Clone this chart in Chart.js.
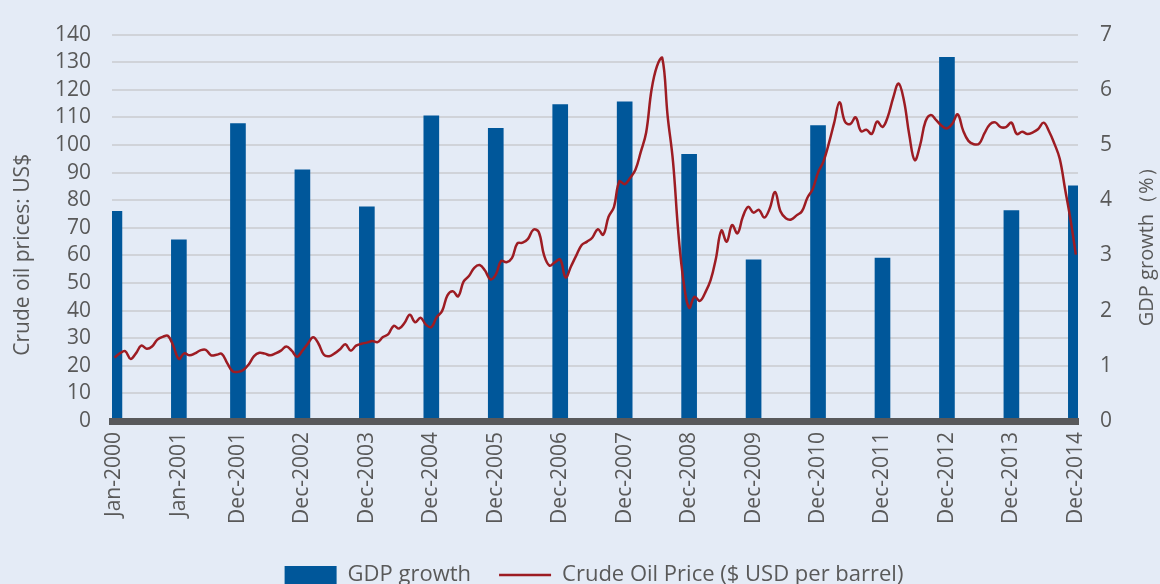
<!DOCTYPE html>
<html>
<head>
<meta charset="utf-8">
<script src="https://cdn.jsdelivr.net/npm/chart.js@4.4.1/dist/chart.umd.min.js"></script>
<style>
    html, body { margin: 0; padding: 0; background: #e4ebf6; overflow: hidden; }
    #chart-wrap { width: 1160px; height: 596px; }
</style>
</head>
<body>
<div id="chart-wrap"><canvas id="oil-gdp-chart" width="1160" height="596"></canvas></div>
<script>
// Etiquetas del eje X y su posicion (indice de mes desde Jan-2000)
var tickIdx = [0, 12, 23, 35, 47, 59, 71, 83, 95, 107, 119, 131, 143, 155, 167, 179];
var tickLabels = ['Jan-2000', 'Jan-2001', 'Dec-2001', 'Dec-2002', 'Dec-2003', 'Dec-2004', 'Dec-2005', 'Dec-2006',
    'Dec-2007', 'Dec-2008', 'Dec-2009', 'Dec-2010', 'Dec-2011', 'Dec-2012', 'Dec-2013', 'Dec-2014'];

// Crecimiento del PIB (%), una barra por etiqueta
var gdpGrowth = [3.8, 3.28, 5.39, 4.55, 3.88, 5.53, 5.3, 5.73, 5.78, 4.83, 2.92, 5.35, 2.95, 6.59, 3.81, 4.26];

// Precio mensual del crudo (USD por barril), Jan-2000 .. Dec-2014
var oil2000 = [23, 24.5, 25.3, 22.5, 24.5, 27.3, 26.2, 27.0, 29.5, 30.5, 30.8, 27.0];
var oil2001 = [22.5, 24.5, 23.8, 24.5, 25.6, 25.8, 23.8, 24.0, 24.3, 21.0, 18.0, 17.8];
var oil2002 = [18.5, 20.5, 23.5, 24.7, 24.4, 23.8, 24.5, 25.5, 27.0, 25.5, 23.3, 25.5];
var oil2003 = [28.0, 30.3, 28.0, 24.0, 23.5, 24.5, 26.0, 27.8, 25.5, 27.3, 28.0, 28.4];
var oil2004 = [29.0, 28.6, 30.4, 31.5, 34.5, 33.5, 35.5, 38.5, 35.8, 37.4, 34.9, 34.0];
var oil2005 = [37.6, 39.8, 45.5, 47.0, 45.2, 50.5, 52.5, 55.5, 56.5, 54.5, 51.3, 53.0];
var oil2006 = [58.0, 57.5, 59.0, 64.3, 64.6, 66.0, 69.3, 68.5, 60.0, 56.3, 57.5, 58.5];
var oil2007 = [52.0, 56.0, 60.0, 63.8, 65.0, 66.5, 69.5, 67.5, 74.0, 77.5, 86.8, 85.8];
var oil2008 = [88.0, 91.0, 97.5, 104.5, 120.0, 128.5, 131.5, 110.5, 94.0, 68.0, 50.0, 41.0];
var oil2009 = [45.0, 43.5, 46.5, 51.0, 59.0, 69.0, 65.0, 71.0, 68.0, 74.0, 77.6, 75.5];
var oil2010 = [76.5, 73.7, 77.0, 83.0, 76.0, 73.5, 73.0, 74.5, 76.0, 80.8, 84.0, 90.0];
var oil2011 = [94.0, 100.5, 108.0, 115.5, 108.5, 107.6, 110.0, 105.0, 105.5, 104.0, 108.5, 106.5];
var oil2012 = [110.3, 117.2, 122.3, 116.0, 103.5, 94.5, 99.9, 108.5, 110.9, 109.0, 107.0, 106.0];
var oil2013 = [107.7, 111.1, 105.3, 101.5, 100.3, 100.5, 104.3, 107.5, 108.2, 106.5, 106.5, 108.1];
var oil2014 = [104.0, 104.8, 104.0, 104.6, 105.8, 108.1, 105.0, 100.5, 95.0, 84.0, 73.0, 60.3];

var oilPrice = [].concat(oil2000, oil2001, oil2002, oil2003, oil2004, oil2005, oil2006, oil2007,
    oil2008, oil2009, oil2010, oil2011, oil2012, oil2013, oil2014);

var leftTitle = 'Crude oil prices: US$';
var rightTitle = 'GDP growth\uFF08%\uFF09';

var BG = '#e4ebf6';
var TEXT = '#595959';
var FONT = '"Open Sans", "Noto Sans", sans-serif';

// Fondo del lienzo
var chartBackground = {
    id: 'chartBackground',
    beforeDraw: function(chart) {
        var ctx = chart.ctx;
        ctx.save();
        ctx.fillStyle = BG;
        ctx.fillRect(0, 0, chart.width, chart.height);
        ctx.restore();
    }
};

// Titulos verticales (ambos se leen de abajo hacia arriba)
function drawVerticalText(ctx, text, x, y, size) {
    ctx.save();
    ctx.translate(x, y);
    ctx.rotate(-Math.PI / 2);
    ctx.fillStyle = TEXT;
    ctx.font = size + 'px ' + FONT;
    ctx.textAlign = 'center';
    ctx.textBaseline = 'middle';
    ctx.fillText(text, 0, 0);
    ctx.restore();
}

var axisTitles = {
    id: 'axisTitles',
    afterDraw: function(chart) {
        var area = chart.chartArea;
        var mid = (area.top + area.bottom) / 2;
        drawVerticalText(chart.ctx, leftTitle, 23, mid + 27, 21);
        drawVerticalText(chart.ctx, rightTitle, 1147, mid + 14, 20);
    }
};

function initOilChart() {
    var ctx = document.getElementById('oil-gdp-chart');

    var barData = tickIdx.map(function(x, i) { return { x: x, y: gdpGrowth[i] }; });
    var lineData = oilPrice.map(function(v, i) { return { x: i, y: v }; });

    var config = {
        type: 'bar',
        data: {
            datasets: [{
                type: 'bar',
                label: 'GDP growth',
                data: barData,
                yAxisID: 'y1',
                backgroundColor: '#00579a',
                borderWidth: 0,
                barThickness: 15,
                pointStyle: 'rect',
                order: 1
            }, {
                type: 'line',
                label: 'Crude Oil Price ($ USD per barrel)',
                data: lineData,
                yAxisID: 'y',
                borderColor: '#9d1c23',
                backgroundColor: '#9d1c23',
                borderWidth: 2.5,
                pointRadius: 0,
                pointStyle: 'line',
                tension: 0.4,
                fill: false,
                order: 0
            }]
        },
        options: {
            responsive: false,
            animation: false,
            devicePixelRatio: 1,
            layout: { padding: { left: 28, right: 0, top: 28, bottom: 0 } },
            scales: {
                x: {
                    type: 'linear',
                    offset: false,
                    bounds: 'data',
                    min: -0.45,
                    max: 179.4,
                    grid: { display: false, drawTicks: false },
                    border: { display: true, width: 7, color: '#58595b', z: 1 },
                    afterBuildTicks: function(scale) {
                        scale.ticks = tickIdx.map(function(v) { return { value: v }; });
                    },
                    afterFit: function(scale) { scale.height = 115; },
                    ticks: {
                        autoSkip: false,
                        minRotation: 90,
                        maxRotation: 90,
                        padding: 11,
                        color: TEXT,
                        font: { family: FONT, size: 21 },
                        callback: function(value) {
                            var k = tickIdx.indexOf(value);
                            return k >= 0 ? tickLabels[k] : '';
                        }
                    }
                },
                y: {
                    position: 'left',
                    min: 0,
                    max: 140,
                    grid: { color: '#d0d3d9', lineWidth: 2, drawTicks: false },
                    border: { display: false },
                    afterFit: function(scale) { scale.width = 84; },
                    ticks: {
                        stepSize: 10,
                        autoSkip: false,
                        padding: 21,
                        color: TEXT,
                        font: { family: FONT, size: 21 }
                    }
                },
                y1: {
                    position: 'right',
                    min: 0,
                    max: 7,
                    grid: { display: false, drawTicks: false },
                    border: { display: false },
                    afterFit: function(scale) { scale.width = 82; },
                    ticks: {
                        stepSize: 1,
                        autoSkip: false,
                        padding: 22,
                        color: TEXT,
                        font: { family: FONT, size: 21 }
                    }
                }
            },
            plugins: {
                legend: {
                    position: 'bottom',
                    labels: {
                        usePointStyle: true,
                        pointStyleWidth: 52,
                        boxHeight: 18,
                        padding: 28,
                        color: TEXT,
                        font: { family: FONT, size: 22 },
                        sort: function(a, b) { return a.datasetIndex - b.datasetIndex; }
                    }
                },
                tooltip: { enabled: false }
            }
        },
        plugins: [chartBackground, axisTitles]
    };

    return new Chart(ctx, config);
}

var oilChart = initOilChart();
</script>
</body>
</html>
